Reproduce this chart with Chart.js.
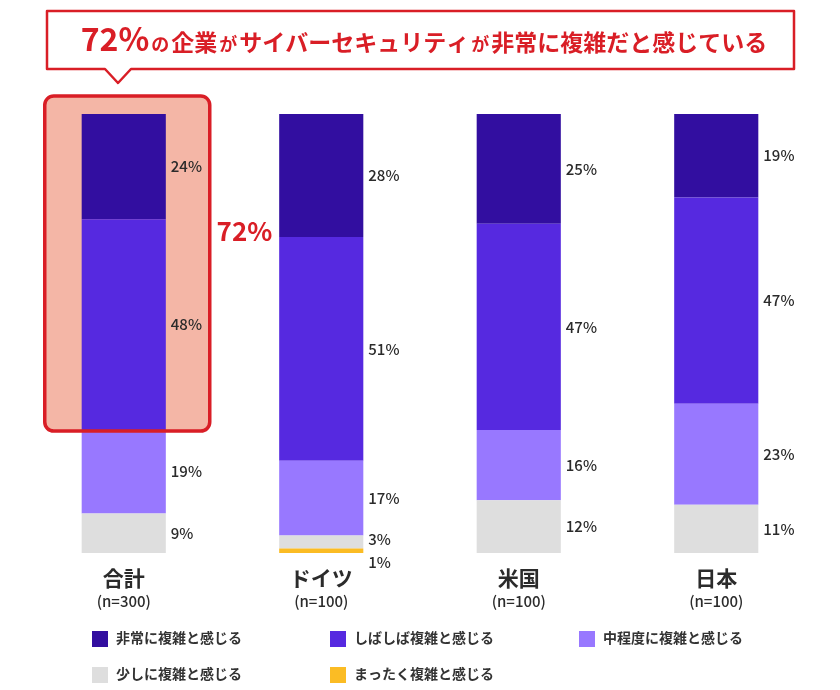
<!DOCTYPE html>
<html><head><meta charset="utf-8">
<script src="https://cdn.jsdelivr.net/npm/chart.js@4"></script>
<style>html,body{margin:0;padding:0;background:#fff}#wrap{width:840px;height:690px;position:relative}</style>
</head><body><div id="wrap"><canvas id="c" width="840" height="690"></canvas></div>
<script>
const categories = ['合計', 'ドイツ', '米国', '日本'];
const sampleSizes = ['(n=300)', '(n=100)', '(n=100)', '(n=100)'];
const seriesNames = ['非常に複雑と感じる', 'しばしば複雑と感じる', '中程度に複雑と感じる', '少しに複雑と感じる', 'まったく複雑と感じる'];
const veryOften = [24, 28, 25, 19];
const often = [48, 51, 47, 47];
const moderate = [19, 17, 16, 23];
const little = [9, 3, 12, 11];
const notAtAll = [0, 1, 0, 0];
const headline = ['72%', 'の', '企業', 'が', 'サイバーセキュリティ', 'が', '非常に複雑だと感じている'];

const COLORS = ['#320EA0', '#5629E0', '#9878FF', '#DEDEDE', '#FBBC24'];
const RED = '#D91E26';
const FONT = '"Noto Sans CJK JP", "Noto Sans", sans-serif';

const seriesValues = [veryOften, often, moderate, little, notAtAll];
// stacking order bottom -> top
const order = [4, 3, 2, 1, 0];
const datasets = order.map(i => ({
  label: seriesNames[i], data: seriesValues[i], backgroundColor: COLORS[i],
  borderWidth: 0, barPercentage: 0.426, categoryPercentage: 1.0, sIndex: i
}));

function rrect(ctx, x, y, w, h, r) {
  ctx.beginPath();
  ctx.moveTo(x + r, y); ctx.lineTo(x + w - r, y); ctx.arcTo(x + w, y, x + w, y + r, r);
  ctx.lineTo(x + w, y + h - r); ctx.arcTo(x + w, y + h, x + w - r, y + h, r);
  ctx.lineTo(x + r, y + h); ctx.arcTo(x, y + h, x, y + h - r, r);
  ctx.lineTo(x, y + r); ctx.arcTo(x, y, x + r, y, r); ctx.closePath();
}

function boxGeom(chart) {
  const xs = chart.scales.x, ys = chart.scales.y;
  const cx = xs.getPixelForValue(0);
  const lowSum = moderate[0] + little[0] + notAtAll[0];
  const top = ys.getPixelForValue(100) - 18;
  const bot = ys.getPixelForValue(lowSum) + 1;
  return { x: cx - 79, y: top, w: 165, h: bot - top };
}

const decor = {
  id: 'decor',
  beforeDatasetsDraw(chart) {
    const ctx = chart.ctx, b = boxGeom(chart);
    ctx.save();
    rrect(ctx, b.x, b.y, b.w, b.h, 9);
    ctx.fillStyle = '#F4B6A6'; ctx.fill();
    ctx.restore();
  },
  afterDatasetsDraw(chart) {
    const ctx = chart.ctx, xs = chart.scales.x;
    ctx.save();
    const b = boxGeom(chart);
    rrect(ctx, b.x, b.y, b.w, b.h, 9);
    ctx.strokeStyle = RED; ctx.lineWidth = 3.5; ctx.stroke();
    // value labels
    ctx.fillStyle = '#2b2b2b'; ctx.font = '500 15px ' + FONT;
    ctx.textAlign = 'left'; ctx.textBaseline = 'middle';
    let secondBarLeft = 0;
    chart.data.datasets.forEach((ds, di) => {
      const meta = chart.getDatasetMeta(di);
      meta.data.forEach((bar, j) => {
        const p = bar.getProps(['x', 'y', 'base', 'width'], true);
        if (j === 1) secondBarLeft = p.x - p.width / 2;
        const v = ds.data[j];
        if (!v) return;
        let ty = (p.y + p.base) / 2;
        if (ds.sIndex === 4) ty = p.base + 9;
        else if (ds.sIndex === 3 && notAtAll[j] > 0) ty -= 3;
        ctx.fillText(v + '%', p.x + p.width / 2 + 5, ty);
      });
    });
    // 72% side label
    const total = veryOften[0] + often[0];
    ctx.fillStyle = RED; ctx.font = 'bold 26px ' + FONT; ctx.textAlign = 'center';
    ctx.fillText(total + '%', (b.x + b.w + secondBarLeft) / 2, 231);
    // category labels
    ctx.fillStyle = '#2b2b2b';
    categories.forEach((c, i) => {
      const px = xs.getPixelForValue(i);
      ctx.font = 'bold 21px ' + FONT; ctx.fillText(c, px, 578);
      ctx.font = '500 15px ' + FONT; ctx.fillText(sampleSizes[i], px, 601);
    });
    // legend
    const cols = [92, 330, 579], rows = [639, 675];
    ctx.textAlign = 'left'; ctx.font = 'bold 14px ' + FONT;
    seriesNames.forEach((n, i) => {
      const lx = cols[i % 3], ly = rows[Math.floor(i / 3)];
      ctx.fillStyle = COLORS[i]; ctx.fillRect(lx, ly - 8, 16, 16);
      ctx.fillStyle = '#333'; ctx.fillText(n, lx + 24, ly - 1);
    });
    // headline callout
    ctx.beginPath();
    ctx.moveTo(47, 11); ctx.lineTo(794, 11); ctx.lineTo(794, 69);
    ctx.lineTo(131, 69); ctx.lineTo(118, 83); ctx.lineTo(105, 69);
    ctx.lineTo(47, 69); ctx.closePath();
    ctx.fillStyle = '#fff'; ctx.fill();
    ctx.strokeStyle = RED; ctx.lineWidth = 2.5; ctx.lineJoin = 'round'; ctx.stroke();
    const sizes = [32, 18, 23, 18, 23, 18, 23];
    const fonts = sizes.map(s => 'bold ' + s + 'px ' + FONT);
    let w = 0;
    headline.forEach((t, i) => { ctx.font = fonts[i]; w += ctx.measureText(t).width + (i ? 2 : 0); });
    let hx = 424 - w / 2;
    ctx.fillStyle = RED; ctx.textBaseline = 'alphabetic';
    headline.forEach((t, i) => {
      ctx.font = fonts[i];
      ctx.fillText(t, hx, 51);
      hx += ctx.measureText(t).width + 2;
    });
    ctx.restore();
  }
};

new Chart(document.getElementById('c'), {
  type: 'bar',
  data: { labels: categories, datasets },
  options: {
    responsive: false, animation: false,
    layout: { padding: { top: 114, bottom: 137, left: 25, right: 25 } },
    plugins: { legend: { display: false }, tooltip: { enabled: false } },
    scales: {
      x: { stacked: true, display: false },
      y: { stacked: true, display: false, min: 0, max: 100 }
    }
  },
  plugins: [decor]
});
</script></body></html>
